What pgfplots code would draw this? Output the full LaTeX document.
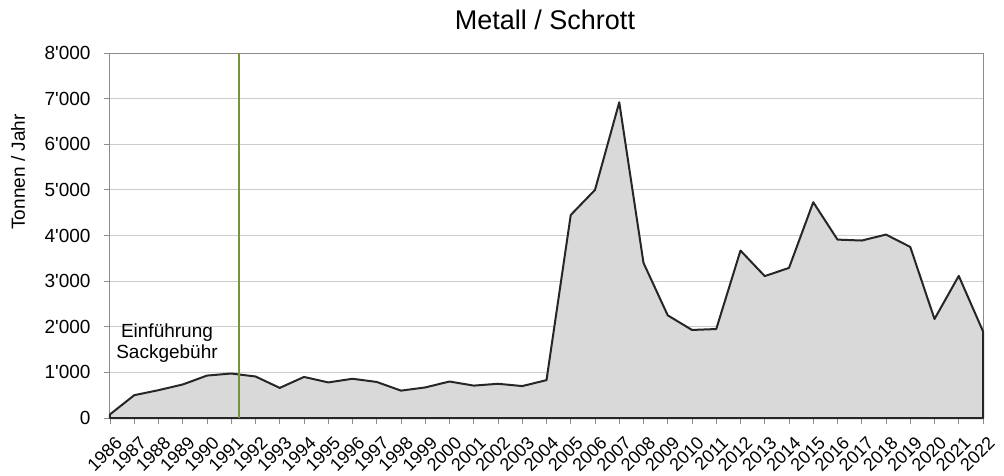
\documentclass[border=0pt]{standalone}
\usepackage{fontspec}
\setmainfont{Liberation Sans}[Ligatures=TeXOff]
\usepackage{pgfplots}
\pgfplotsset{compat=1.18}
\definecolor{areafill}{HTML}{D9D9D9}
\definecolor{gridc}{HTML}{CCCCCC}
\definecolor{axc}{HTML}{8C8C8C}
\definecolor{greenl}{HTML}{77933C}
\definecolor{linec}{HTML}{262626}
\pgfplotstableread{
year val
1986 80
1987 500
1988 610
1989 735
1990 930
1991 975
1992 910
1993 660
1994 900
1995 780
1996 860
1997 790
1998 600
1999 670
2000 800
2001 710
2002 750
2003 700
2004 830
2005 4450
2006 5000
2007 6920
2008 3400
2009 2250
2010 1930
2011 1950
2012 3670
2013 3110
2014 3290
2015 4730
2016 3910
2017 3890
2018 4020
2019 3750
2020 2170
2021 3115
2022 1900
}\datatable
\begin{document}
\begin{tikzpicture}[x=1pt,y=1pt]
\useasboundingbox (0,0) rectangle (1004,475);
\begin{axis}[
  at={(110pt,57pt)}, anchor=south west,
  scale only axis, width=873pt, height=365pt,
  xmin=1986, xmax=2022, ymin=0, ymax=8000,
  xtick={1986,...,2022},
  xticklabel={\pgfmathprintnumber[1000 sep={}]{\tick}},
  ytick={0,1000,...,8000},
  yticklabels={0,1'000,2'000,3'000,4'000,5'000,6'000,7'000,8'000},
  tick pos=left, tick align=outside, major tick length=6pt,
  tick style={axc, line width=0.8pt},
  axis line style={axc, line width=1pt},
  ymajorgrids, major grid style={gridc, line width=1pt},
  /pgf/number format/assume math mode=true,
  ticklabel style={font=\fontsize{18}{20}\selectfont},
  yticklabel style={font=\fontsize{19}{21}\selectfont, anchor=east, xshift=-10pt},
  xticklabel style={rotate=45, anchor=north east, inner sep=1pt, yshift=-10pt, xshift=-4pt},
  clip=false,
]
\addplot[fill=areafill, draw=linec, line width=2pt, line join=round] table[x=year,y=val]{\datatable} \closedcycle;
\addplot[greenl, line width=2pt] coordinates {(1991.3,0) (1991.3,8000)};
\node[align=center, font=\fontsize{19}{21}\selectfont] at (axis cs:1988.35,1634) {Einführung\\Sackgebühr};
\end{axis}
\node[font=\fontsize{27}{30}\selectfont] at (545,455) {Metall / Schrott};
\node[rotate=90, font=\fontsize{19}{21}\selectfont] at (18,303) {Tonnen / Jahr};
\end{tikzpicture}
\end{document}
